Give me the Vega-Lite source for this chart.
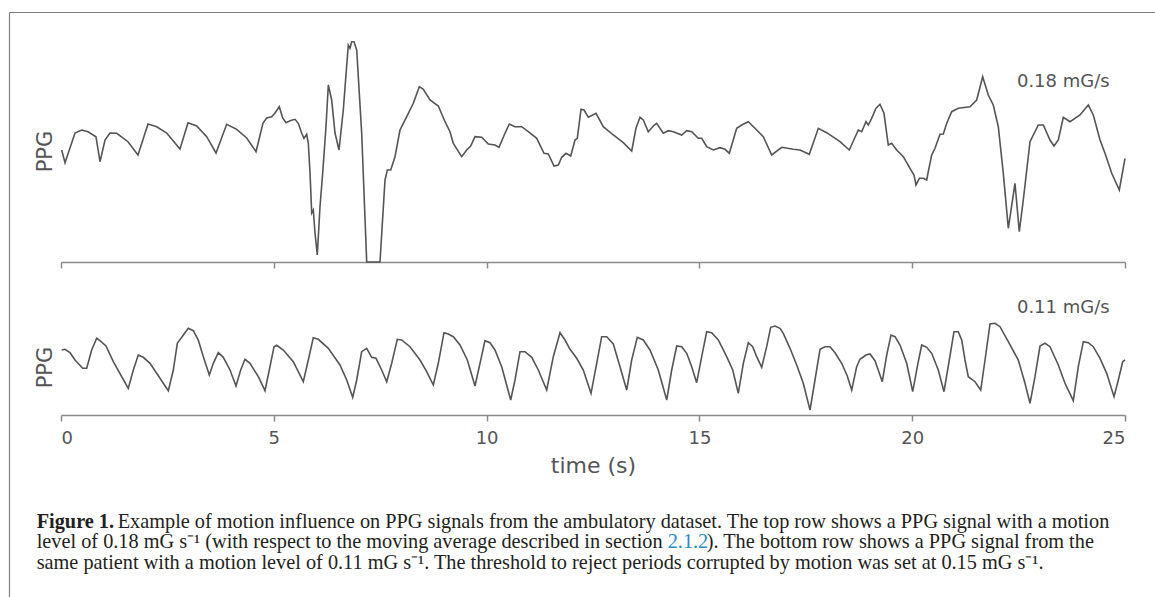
{
  "$schema": "https://vega.github.io/schema/vega-lite/v6.json",
  "width": 1152,
  "height": 590,
  "autosize": {"type": "none"},
  "padding": {"left": 9, "top": 12, "right": -6, "bottom": -5},
  "background": "white",
  "config": {
    "view": {"stroke": null},
    "axis": {"grid": false}
  },
  "datasets": {
    "top": [
      {"t":0.016,"v":112},{"t":0.094,"v":99.3},{"t":0.329,"v":129},{"t":0.486,"v":132},{"t":0.634,"v":130.3},{"t":0.822,"v":125.3},{"t":0.916,"v":100.3},{"t":1.034,"v":122},{"t":1.151,"v":129},{"t":1.309,"v":128.7},{"t":1.574,"v":120.3},{"t":1.809,"v":107},{"t":2.044,"v":138},{"t":2.249,"v":135.3},{"t":2.484,"v":129},{"t":2.796,"v":113},{"t":2.984,"v":139.3},{"t":3.188,"v":136},{"t":3.423,"v":125.3},{"t":3.642,"v":109},{"t":3.893,"v":137.7},{"t":4.128,"v":132.7},{"t":4.363,"v":124},{"t":4.582,"v":110.3},{"t":4.746,"v":139},{"t":4.833,"v":144},{"t":4.951,"v":145.3},{"t":5.028,"v":149},{"t":5.129,"v":155.3},{"t":5.209,"v":144},{"t":5.287,"v":139.3},{"t":5.381,"v":141.3},{"t":5.498,"v":142.7},{"t":5.576,"v":138.7},{"t":5.656,"v":128.7},{"t":5.71,"v":123.7},{"t":5.773,"v":127.7},{"t":5.811,"v":119},{"t":5.851,"v":89},{"t":5.891,"v":49},{"t":5.928,"v":52},{"t":5.968,"v":29},{"t":6.022,"v":7},{"t":6.085,"v":55},{"t":6.149,"v":89},{"t":6.226,"v":135.3},{"t":6.281,"v":177},{"t":6.36,"v":162},{"t":6.438,"v":129},{"t":6.532,"v":112},{"t":6.633,"v":152},{"t":6.75,"v":217},{"t":6.79,"v":213.7},{"t":6.83,"v":220.3},{"t":6.884,"v":220.3},{"t":6.948,"v":212},{"t":7.065,"v":129},{"t":7.183,"v":0},{"t":7.495,"v":0},{"t":7.613,"v":82},{"t":7.667,"v":92},{"t":7.747,"v":92},{"t":7.848,"v":105.3},{"t":7.965,"v":132},{"t":8.123,"v":145.3},{"t":8.278,"v":158.7},{"t":8.419,"v":175.3},{"t":8.513,"v":172.7},{"t":8.67,"v":162},{"t":8.865,"v":156},{"t":9.023,"v":140.3},{"t":9.14,"v":130.3},{"t":9.218,"v":118.7},{"t":9.415,"v":105.3},{"t":9.532,"v":112},{"t":9.626,"v":116},{"t":9.727,"v":125.3},{"t":9.885,"v":124.7},{"t":10.04,"v":118},{"t":10.197,"v":117},{"t":10.291,"v":114.7},{"t":10.432,"v":128.7},{"t":10.533,"v":138},{"t":10.667,"v":135.3},{"t":10.825,"v":135.3},{"t":10.98,"v":130.3},{"t":11.177,"v":123.7},{"t":11.349,"v":108.7},{"t":11.45,"v":108},{"t":11.584,"v":96},{"t":11.685,"v":97},{"t":11.765,"v":104.7},{"t":11.866,"v":108.7},{"t":11.976,"v":106},{"t":12.077,"v":122},{"t":12.131,"v":123.7},{"t":12.218,"v":152.7},{"t":12.289,"v":152},{"t":12.39,"v":144.7},{"t":12.571,"v":148.7},{"t":12.742,"v":135.3},{"t":12.977,"v":127},{"t":13.212,"v":119.3},{"t":13.409,"v":111},{"t":13.51,"v":133.7},{"t":13.604,"v":144.7},{"t":13.682,"v":142},{"t":13.799,"v":130.3},{"t":13.933,"v":136.7},{"t":13.996,"v":138.7},{"t":14.152,"v":128.7},{"t":14.269,"v":131.3},{"t":14.387,"v":130.3},{"t":14.584,"v":127},{"t":14.702,"v":131.3},{"t":14.819,"v":130.3},{"t":14.974,"v":123.7},{"t":15.054,"v":123.7},{"t":15.172,"v":115.3},{"t":15.327,"v":112},{"t":15.484,"v":114.3},{"t":15.602,"v":112.7},{"t":15.703,"v":108.7},{"t":15.876,"v":133.7},{"t":15.994,"v":137},{"t":16.149,"v":140.3},{"t":16.306,"v":133.7},{"t":16.501,"v":125.3},{"t":16.699,"v":107},{"t":16.934,"v":114.7},{"t":17.206,"v":112.7},{"t":17.364,"v":112},{"t":17.582,"v":107.7},{"t":17.794,"v":133.7},{"t":17.991,"v":129.3},{"t":18.304,"v":120.3},{"t":18.522,"v":112},{"t":18.733,"v":132},{"t":18.813,"v":130.3},{"t":18.914,"v":140.3},{"t":18.968,"v":137},{"t":19.048,"v":143.7},{"t":19.149,"v":153.7},{"t":19.243,"v":157.7},{"t":19.337,"v":148.7},{"t":19.438,"v":117},{"t":19.518,"v":118.7},{"t":19.636,"v":112},{"t":19.791,"v":105.3},{"t":19.948,"v":93.7},{"t":20.042,"v":87},{"t":20.089,"v":77},{"t":20.167,"v":83.7},{"t":20.261,"v":83.7},{"t":20.341,"v":82},{"t":20.378,"v":90.3},{"t":20.458,"v":107},{"t":20.536,"v":113.7},{"t":20.653,"v":127.7},{"t":20.731,"v":128},{"t":20.811,"v":138.7},{"t":20.928,"v":150.3},{"t":21.083,"v":153.7},{"t":21.358,"v":155.3},{"t":21.515,"v":162},{"t":21.656,"v":185.3},{"t":21.788,"v":167},{"t":21.905,"v":157},{"t":22.023,"v":135.3},{"t":22.141,"v":88.7},{"t":22.258,"v":33.7},{"t":22.415,"v":78.7},{"t":22.516,"v":30.3},{"t":22.61,"v":62},{"t":22.768,"v":120.3},{"t":22.963,"v":137},{"t":23.081,"v":137},{"t":23.238,"v":122},{"t":23.332,"v":116},{"t":23.433,"v":122},{"t":23.55,"v":144.7},{"t":23.708,"v":140.3},{"t":23.943,"v":147},{"t":24.138,"v":157},{"t":24.255,"v":147},{"t":24.413,"v":122},{"t":24.53,"v":108.7},{"t":24.688,"v":88.7},{"t":24.866,"v":72},{"t":25.0,"v":103.7}
    ],
    "bottom": [
      {"t":0.016,"v":65},{"t":0.094,"v":65.7},{"t":0.211,"v":62.3},{"t":0.329,"v":55},{"t":0.51,"v":46.7},{"t":0.604,"v":46.7},{"t":0.721,"v":65},{"t":0.839,"v":76.7},{"t":0.916,"v":74.3},{"t":1.057,"v":69},{"t":1.229,"v":53.3},{"t":1.581,"v":26.7},{"t":1.699,"v":45},{"t":1.816,"v":60},{"t":1.934,"v":57.7},{"t":2.091,"v":51.7},{"t":2.326,"v":36.7},{"t":2.521,"v":24.3},{"t":2.639,"v":45},{"t":2.733,"v":71.7},{"t":2.859,"v":79},{"t":2.991,"v":86.7},{"t":3.109,"v":84.3},{"t":3.226,"v":75},{"t":3.344,"v":58.3},{"t":3.485,"v":40},{"t":3.579,"v":51.7},{"t":3.696,"v":62.3},{"t":3.813,"v":57.7},{"t":3.971,"v":45},{"t":4.112,"v":29},{"t":4.222,"v":45},{"t":4.323,"v":55.7},{"t":4.441,"v":51.7},{"t":4.636,"v":38.3},{"t":4.793,"v":24.3},{"t":4.894,"v":45},{"t":5.005,"v":68.3},{"t":5.068,"v":69.7},{"t":5.223,"v":65},{"t":5.458,"v":53.3},{"t":5.693,"v":33.3},{"t":5.811,"v":55},{"t":5.928,"v":77.3},{"t":6.046,"v":75.7},{"t":6.281,"v":66.7},{"t":6.555,"v":50},{"t":6.713,"v":35},{"t":6.854,"v":17.7},{"t":6.948,"v":35},{"t":7.065,"v":63.3},{"t":7.183,"v":66.7},{"t":7.3,"v":57.7},{"t":7.401,"v":56.7},{"t":7.535,"v":45},{"t":7.653,"v":33.3},{"t":7.77,"v":51.7},{"t":7.902,"v":75.7},{"t":8.005,"v":75},{"t":8.2,"v":68.3},{"t":8.435,"v":55},{"t":8.592,"v":43.3},{"t":8.748,"v":30},{"t":8.865,"v":51.7},{"t":8.999,"v":82.3},{"t":9.1,"v":81},{"t":9.218,"v":78.3},{"t":9.375,"v":70},{"t":9.547,"v":55},{"t":9.727,"v":29},{"t":9.845,"v":51.7},{"t":9.962,"v":74.3},{"t":10.08,"v":72.3},{"t":10.197,"v":65},{"t":10.355,"v":48.3},{"t":10.566,"v":15},{"t":10.667,"v":35},{"t":10.785,"v":63.3},{"t":10.902,"v":63.3},{"t":11.06,"v":57.7},{"t":11.215,"v":45},{"t":11.412,"v":25},{"t":11.567,"v":58.3},{"t":11.725,"v":82.3},{"t":11.842,"v":75},{"t":11.96,"v":65.7},{"t":12.117,"v":56.7},{"t":12.272,"v":45},{"t":12.453,"v":21.7},{"t":12.587,"v":51.7},{"t":12.704,"v":78.3},{"t":12.822,"v":78.3},{"t":12.977,"v":71},{"t":13.134,"v":48.3},{"t":13.292,"v":25},{"t":13.409,"v":55},{"t":13.541,"v":77.7},{"t":13.682,"v":75},{"t":13.839,"v":65},{"t":14.034,"v":45},{"t":14.232,"v":15},{"t":14.349,"v":45},{"t":14.467,"v":69},{"t":14.584,"v":68.3},{"t":14.702,"v":61.7},{"t":14.819,"v":48.3},{"t":14.936,"v":32.3},{"t":15.054,"v":58.3},{"t":15.172,"v":83.3},{"t":15.289,"v":82.3},{"t":15.444,"v":75},{"t":15.641,"v":58.3},{"t":15.783,"v":45},{"t":15.914,"v":21.7},{"t":16.032,"v":51.7},{"t":16.149,"v":72.3},{"t":16.252,"v":68.3},{"t":16.346,"v":58.3},{"t":16.464,"v":47.7},{"t":16.581,"v":68.3},{"t":16.675,"v":87.7},{"t":16.776,"v":89},{"t":16.894,"v":86.7},{"t":16.971,"v":81.7},{"t":17.129,"v":66.7},{"t":17.286,"v":50},{"t":17.441,"v":31.7},{"t":17.599,"v":5},{"t":17.716,"v":35},{"t":17.834,"v":65.7},{"t":17.951,"v":68.3},{"t":18.069,"v":68.3},{"t":18.186,"v":62.3},{"t":18.343,"v":51.7},{"t":18.475,"v":39},{"t":18.578,"v":25},{"t":18.696,"v":48.3},{"t":18.773,"v":55.7},{"t":18.914,"v":60},{"t":19.008,"v":61},{"t":19.126,"v":54.3},{"t":19.297,"v":33.3},{"t":19.401,"v":60},{"t":19.502,"v":80},{"t":19.596,"v":78.3},{"t":19.713,"v":70},{"t":19.871,"v":51.7},{"t":20.012,"v":23.3},{"t":20.12,"v":48.3},{"t":20.223,"v":70},{"t":20.341,"v":67.7},{"t":20.458,"v":61.7},{"t":20.613,"v":45},{"t":20.747,"v":23.3},{"t":20.872,"v":55},{"t":20.982,"v":83.3},{"t":21.083,"v":83.3},{"t":21.163,"v":75},{"t":21.241,"v":55},{"t":21.318,"v":38.3},{"t":21.476,"v":33.3},{"t":21.61,"v":25},{"t":21.711,"v":55},{"t":21.828,"v":91},{"t":21.946,"v":91.7},{"t":22.063,"v":88.3},{"t":22.258,"v":73.3},{"t":22.493,"v":55},{"t":22.65,"v":31.7},{"t":22.768,"v":11.7},{"t":22.885,"v":38.3},{"t":23.003,"v":69},{"t":23.12,"v":71.7},{"t":23.238,"v":68.3},{"t":23.433,"v":50},{"t":23.59,"v":31.7},{"t":23.785,"v":14.3},{"t":23.903,"v":48.3},{"t":24.021,"v":73.3},{"t":24.138,"v":72.3},{"t":24.255,"v":68.3},{"t":24.413,"v":56.7},{"t":24.57,"v":41.7},{"t":24.742,"v":18.3},{"t":24.843,"v":35},{"t":24.946,"v":53.3},{"t":25.0,"v":55}
    ],
    "topLabel": [{"t": 23.55, "v": 180, "label": "0.18 mG/s"}],
    "bottomLabel": [{"t": 23.55, "v": 107, "label": "0.11 mG/s"}],
    "caption": [
      {"line": 1, "seg": "bold", "text": "Figure 1."},
      {"line": 1, "seg": "after", "text": "Example of motion influence on PPG signals from the ambulatory dataset. The top row shows a PPG signal with a motion"},
      {"line": 2, "seg": "plain", "text": "level of 0.18 mG s⁻¹ (with respect to the moving average described in section"},
      {"line": 2, "seg": "link", "text": "2.1.2"},
      {"line": 2, "seg": "after2", "text": "). The bottom row shows a PPG signal from the"},
      {"line": 3, "seg": "plain", "text": "same patient with a motion level of 0.11 mG s⁻¹. The threshold to reject periods corrupted by motion was set at 0.15 mG s⁻¹."}
    ]
  },
  "layer": [
    {
      "encoding": {
        "x": {"field": "t", "type": "quantitative",
          "scale": {"domain": [0, 25], "range": [52, 1116], "nice": false, "zero": false},
          "axis": {"orient": "bottom", "offset": -340, "values": [0, 5, 10, 15, 20, 25], "labels": false, "title": null,
            "domainColor": "#8a8a8a", "domainWidth": 1.5, "tickColor": "#8a8a8a", "tickWidth": 1.5, "tickSize": 6}},
        "y": {"field": "v", "type": "quantitative",
          "scale": {"domain": [-28, 250], "range": [278, 0], "nice": false, "zero": false},
          "axis": {"orient": "left", "offset": -52, "title": "PPG", "domain": false, "ticks": false, "labels": false,
            "titleFont": "DejaVu Sans", "titleFontSize": 21, "titleFontWeight": "normal", "titleColor": "#555555", "titlePadding": 6}}
      },
      "layer": [
        {"data": {"name": "top"}, "mark": {"type": "line", "color": "#555555", "strokeWidth": 1.6}},
        {"data": {"name": "topLabel"}, "mark": {"type": "text", "font": "DejaVu Sans", "fontSize": 18, "color": "#555555", "align": "center", "baseline": "middle"},
          "encoding": {"text": {"field": "label"}}}
      ]
    },
    {
      "encoding": {
        "x": {"field": "t", "type": "quantitative",
          "scale": {"domain": [0, 25], "range": [52, 1116], "nice": false, "zero": false},
          "axis": {"orient": "bottom", "offset": -187, "values": [0, 5, 10, 15, 20, 25], "title": "time (s)",
            "domainColor": "#8a8a8a", "domainWidth": 1.5, "tickColor": "#8a8a8a", "tickWidth": 1.5, "tickSize": 6,
            "labelFont": "DejaVu Sans", "labelFontSize": 18, "labelColor": "#555555", "labelPadding": 8,
            "titleFont": "DejaVu Sans", "titleFontSize": 22, "titleFontWeight": "normal", "titleColor": "#555555", "titlePadding": 8}},
        "y": {"field": "v", "type": "quantitative",
          "scale": {"domain": [-4, 100], "range": [407, 303], "nice": false, "zero": false},
          "axis": {"orient": "left", "offset": -52, "title": "PPG", "domain": false, "ticks": false, "labels": false,
            "titleFont": "DejaVu Sans", "titleFontSize": 21, "titleFontWeight": "normal", "titleColor": "#555555", "titlePadding": 6}}
      },
      "layer": [
        {"data": {"name": "bottom"}, "mark": {"type": "line", "color": "#555555", "strokeWidth": 1.6}},
        {"data": {"name": "bottomLabel"}, "mark": {"type": "text", "font": "DejaVu Sans", "fontSize": 18, "color": "#555555", "align": "center", "baseline": "middle"},
          "encoding": {"text": {"field": "label"}}}
      ]
    },
    {
      "data": {"name": "caption"},
      "encoding": {
        "x": {"datum": 0, "type": "quantitative",
          "scale": {"domain": [-27.7, 1124.3], "range": [0, 1152], "nice": false, "zero": false},
          "axis": {"orient": "top", "offset": 0, "domain": true, "domainColor": "#808080", "domainWidth": 1.2, "ticks": false, "labels": false, "title": null}},
        "y": {"field": "line", "type": "quantitative",
          "scale": {"domain": [-24.28, 4.64], "range": [0, 590], "nice": false, "zero": false},
          "axis": {"orient": "left", "offset": 0, "domain": true, "domainColor": "#808080", "domainWidth": 1.2, "ticks": false, "labels": false, "title": null}},
        "text": {"field": "text"}
      },
      "layer": [
        {"transform": [{"filter": "datum.seg === 'bold'"}],
          "mark": {"type": "text", "font": "Liberation Serif", "fontSize": 20.3, "fontWeight": "bold", "color": "#231f20", "align": "left", "baseline": "alphabetic"}},
        {"transform": [{"filter": "datum.seg === 'after'"}],
          "mark": {"type": "text", "font": "Liberation Serif", "fontSize": 20.3, "color": "#231f20", "align": "left", "baseline": "alphabetic", "dx": 81}},
        {"transform": [{"filter": "datum.seg === 'plain'"}],
          "mark": {"type": "text", "font": "Liberation Serif", "fontSize": 20.3, "color": "#231f20", "align": "left", "baseline": "alphabetic"}},
        {"transform": [{"filter": "datum.seg === 'link'"}],
          "mark": {"type": "text", "font": "Liberation Serif", "fontSize": 20.3, "color": "#2b8cc4", "align": "left", "baseline": "alphabetic", "dx": 631}},
        {"transform": [{"filter": "datum.seg === 'after2'"}],
          "mark": {"type": "text", "font": "Liberation Serif", "fontSize": 20.3, "color": "#231f20", "align": "left", "baseline": "alphabetic", "dx": 670}}
      ]
    }
  ],
  "resolve": {
    "scale": {"x": "independent", "y": "independent"},
    "axis": {"x": "independent", "y": "independent"}
  }
}
